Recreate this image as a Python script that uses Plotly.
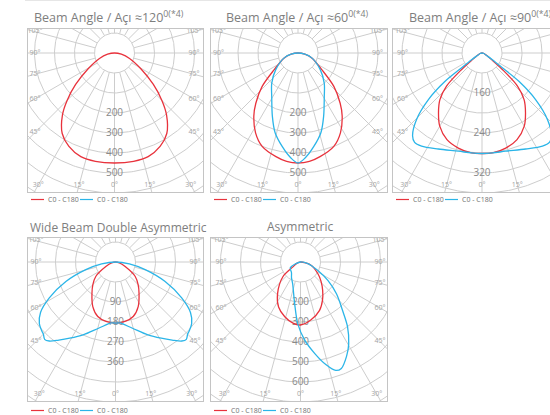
import numpy as np
import plotly.graph_objects as go

W, H = 550, 415

# ---------------- data ----------------
TITLES = ["Beam Angle / Açı ≈120<sup>0(*4)</sup>",
          "Beam Angle / Açı ≈60<sup>0(*4)</sup>",
          "Beam Angle / Açı ≈90<sup>0(*4)</sup>",
          "Wide Beam Double Asymmetric",
          "Asymmetric"]
SERIES_NAMES = ["C0 - C180", "C0 - C180"]
SIDE_ANGLES = [105, 90, 75, 60, 45]
BOTTOM_ANGLES = [30, 15, 0]

# panel 1 (cd, angle from nadir; symmetric half curves)
p1_ticks = [200, 300, 400, 500]
p1_red_ang = [0, 10, 18, 26, 33, 40, 45, 51, 59, 70, 80, 90]
p1_red_val = [450, 450, 445, 420, 380, 305, 235, 150, 55, -20, -65, -100]
# panel 2
p2_ticks = [200, 300, 400, 500]
p2_red_ang = [0, 6, 12, 21, 28, 35, 40, 47, 55, 70, 80, 90]
p2_red_val = [450, 445, 430, 400, 352, 285, 228, 145, 45, -25, -65, -100]
p2_blue_ang = [0, 4, 9.5, 16, 22, 31, 41, 53, 70, 80, 90]
p2_blue_val = [450, 425, 375, 315, 242, 155, 100, 40, -25, -65, -100]
# panel 3
p3_ticks = [160, 240, 320]
p3_red_ang = [0, 6, 14, 22, 30, 36, 42, 47, 51, 55, 62, 75, 90]
p3_red_val = [281, 281, 276, 267, 249, 228, 206, 177, 133, 104, 90, 84, 80]
p3_blue_ang = [0, 6, 13.5, 24.5, 33, 37, 40, 44.5, 49, 52.5, 54, 57, 62, 75, 90]
p3_blue_val = [281, 281, 282, 291, 302, 304, 296, 267, 222, 173, 131, 104, 90, 84, 80]
# panel 4
p4_ticks = [90, 180, 270, 360]
p4_red_ang = [0, 9, 18, 27, 37, 45, 54, 65, 78, 90]
p4_red_val = [185, 181, 168, 135, 86, 54, 19, -42, -72, -90]
p4_blue_ang = [0, 4, 14, 24, 31, 36, 40, 42.5, 45, 47, 51, 56, 61.5, 68.5, 75.5, 82, 90]
p4_blue_val = [185, 185, 216, 269, 310, 344, 374, 382, 369, 364, 351, 317, 249, 150, 48, -27, -90]
# panel 5 (asymmetric, full -90..90)
p5_ticks = [200, 300, 400, 500, 600]
p5_red_ang = [-90, -70, -57, -50, -36, -26, -16, -7, 0, 10, 21.5, 30, 38, 47, 56, 73, 90]
p5_red_val = [0, 20, 45, 115, 195, 250, 285, 308, 315, 295, 260, 220, 180, 140, 105, 55, 0]
p5_blue_ang = [-90, -61, -40, -30, -20, -8, -2.5, 3, 9, 14, 18, 21, 26, 30.5, 36, 41, 48.5, 56, 64, 78, 90]
p5_blue_val = [0, 58, 70, 90, 115, 210, 310, 390, 465, 530, 570, 570, 525, 475, 400, 320, 240, 165, 95, 38, 0]

# ---------------- style / layout ----------------
RED = "#e8323c"
BLUE = "#2bb5e8"
GRID = "#cdcdcd"
BOXC = "#c4c4c4"
RING_PX = 20
FONT = "Open Sans"


def mirror(ang, val):
    return [-a for a in ang[::-1]] + list(ang[1:]), list(val[::-1]) + list(val[1:])


PANELS = [
    dict(box=(28, 29, 203, 192), c=(114.5, 53), r0=-100, step=100, ticks=p1_ticks,
         curves=[(p1_red_ang, p1_red_val, RED, True)], title_xy=(109, 17)),
    dict(box=(211, 29, 387, 192), c=(298, 53), r0=-100, step=100, ticks=p2_ticks,
         curves=[(p2_red_ang, p2_red_val, RED, True), (p2_blue_ang, p2_blue_val, BLUE, True)],
         title_xy=(297, 17)),
    dict(box=(393, 29, 550, 192), c=(482, 53), r0=80, step=40, ticks=p3_ticks,
         curves=[(p3_red_ang, p3_red_val, RED, True), (p3_blue_ang, p3_blue_val, BLUE, True)],
         title_xy=(480, 17), cut=True),
    dict(box=(28, 238, 203, 401), c=(115.5, 262), r0=-90, step=90, ticks=p4_ticks,
         curves=[(p4_red_ang, p4_red_val, RED, True), (p4_blue_ang, p4_blue_val, BLUE, True)],
         title_xy=(118, 227)),
    dict(box=(211, 238, 387, 401), c=(300.5, 262), r0=0, step=100, ticks=p5_ticks,
         curves=[(p5_red_ang, p5_red_val, RED, False), (p5_blue_ang, p5_blue_val, BLUE, False)],
         title_xy=(300, 226)),
]

fig = go.Figure()
shapes = []
annotations = []


def px(x, y):
    return x / W, 1 - y / H


# grid geometry (in pixel-like axis units)
th = np.linspace(0, 2 * np.pi, 361)
ring_x, ring_y = [], []
for k in range(1, 12):
    r = k * RING_PX
    ring_x += list(r * np.cos(th)) + [None]
    ring_y += list(r * np.sin(th)) + [None]
spoke_x, spoke_y = [], []
for d in range(0, 360, 15):
    a = np.radians(d)
    spoke_x += [RING_PX * np.sin(a), 240 * np.sin(a), None]
    spoke_y += [-RING_PX * np.cos(a), -240 * np.cos(a), None]

layout_axes = {}
for i, p in enumerate(PANELS, start=1):
    l, t, r, b = p["box"]
    cx, cy = p["c"]
    xs = "x" if i == 1 else f"x{i}"
    ys = "y" if i == 1 else f"y{i}"
    xk = "xaxis" if i == 1 else f"xaxis{i}"
    yk = "yaxis" if i == 1 else f"yaxis{i}"
    xr = [l - cx, r - cx]
    layout_axes[xk] = dict(domain=[l / W, r / W], range=xr, anchor=ys,
                           showgrid=False, zeroline=False, showticklabels=False, ticks="",
                           showline=True, linecolor=BOXC, linewidth=1, mirror=True, fixedrange=True)
    layout_axes[yk] = dict(domain=[1 - b / H, 1 - t / H], range=[cy - b, cy - t], anchor=xs,
                           showgrid=False, zeroline=False, showticklabels=False, ticks="",
                           showline=True, linecolor=BOXC, linewidth=1,
                           mirror=(not p.get("cut", False)), fixedrange=True)

    # grid
    fig.add_trace(go.Scatter(x=ring_x, y=ring_y, mode="lines", xaxis=xs, yaxis=ys,
                             line=dict(color=GRID, width=1), hoverinfo="skip"))
    fig.add_trace(go.Scatter(x=spoke_x, y=spoke_y, mode="lines", xaxis=xs, yaxis=ys,
                             line=dict(color=GRID, width=1), hoverinfo="skip"))

    # ring labels
    rl = [-(v - p["r0"]) / p["step"] * RING_PX for v in p["ticks"]]
    fig.add_trace(go.Scatter(x=[0] * len(rl), y=rl, mode="text", text=[str(v) for v in p["ticks"]],
                             textfont=dict(family=FONT, size=10, color="#8a8a8a"),
                             xaxis=xs, yaxis=ys, hoverinfo="skip"))

    # angle labels (only those that fall inside the visible box)
    XS = 79.5
    YS = (b - cy) - 7
    axl, ayl, atl = [], [], []
    for d in SIDE_ANGLES:
        a = np.radians(d)
        yv = -XS * np.cos(a) / np.sin(a)
        for sgn in (-1, 1):
            axl.append(sgn * XS); ayl.append(yv); atl.append(f"{d}°")
    for d in BOTTOM_ANGLES:
        a = np.radians(d)
        xv = YS * np.tan(a)
        for sgn in ((-1, 1) if d else (1,)):
            axl.append(sgn * xv); ayl.append(-YS); atl.append(f"{d}°")
    keep = [k for k in range(len(axl)) if xr[0] + 6 < axl[k] < xr[1] - 6]
    fig.add_trace(go.Scatter(x=[axl[k] for k in keep], y=[ayl[k] for k in keep], mode="text",
                             text=[atl[k] for k in keep], cliponaxis=True,
                             textfont=dict(family=FONT, size=7, color="#a4a4a4"),
                             xaxis=xs, yaxis=ys, hoverinfo="skip"))

    # curves
    for ang, val, col, sym in p["curves"]:
        if sym:
            ang, val = mirror(ang, val)
        a = np.radians(np.asarray(ang, float))
        rr = (np.asarray(val, float) - p["r0"]) / p["step"] * RING_PX
        fig.add_trace(go.Scatter(x=rr * np.sin(a), y=-rr * np.cos(a), mode="lines",
                                 line=dict(color=col, width=1.3, shape="spline", smoothing=0.9),
                                 xaxis=xs, yaxis=ys, hoverinfo="skip"))

    # title
    tx, ty = p["title_xy"]
    annotations.append(dict(x=tx / W, y=1 - ty / H, xref="paper", yref="paper", showarrow=False,
                            text=TITLES[i - 1], xanchor="center", yanchor="middle",
                            font=dict(family=FONT, size=12.5 if i <= 3 else 12, color="#7e7e7e")))

    # legend (manual)
    ly = b + 7.5 if i <= 3 else b + 9.5
    for j, (off, col) in enumerate([(3, RED), (52, BLUE)]):
        x0, y0 = px(l + off, ly)
        x1, _ = px(l + off + 13, ly)
        shapes.append(dict(type="line", xref="paper", yref="paper", x0=x0, y0=y0, x1=x1, y1=y0,
                           line=dict(color=col, width=1.2)))
        tx0, _ = px(l + off + 14.5, ly)
        annotations.append(dict(x=tx0, y=y0, xref="paper", yref="paper", showarrow=False,
                                text=SERIES_NAMES[j], xanchor="left", yanchor="middle",
                                font=dict(family=FONT, size=7, color="#707070")))

# faint line at top
shapes.append(dict(type="line", xref="paper", yref="paper", x0=25 / W, x1=1, y0=1 - 0.5 / H, y1=1 - 0.5 / H,
                   line=dict(color="#e6e6e6", width=1)))

fig.update_layout(width=W, height=H, margin=dict(l=0, r=0, t=0, b=0), showlegend=False,
                  paper_bgcolor="white", plot_bgcolor="white", hovermode=False,
                  shapes=shapes, annotations=annotations, **layout_axes)

fig.write_html("out.html", config={"displayModeBar": False, "staticPlot": True},
               post_script="document.body.style.margin='0';document.body.style.overflow='hidden';")
